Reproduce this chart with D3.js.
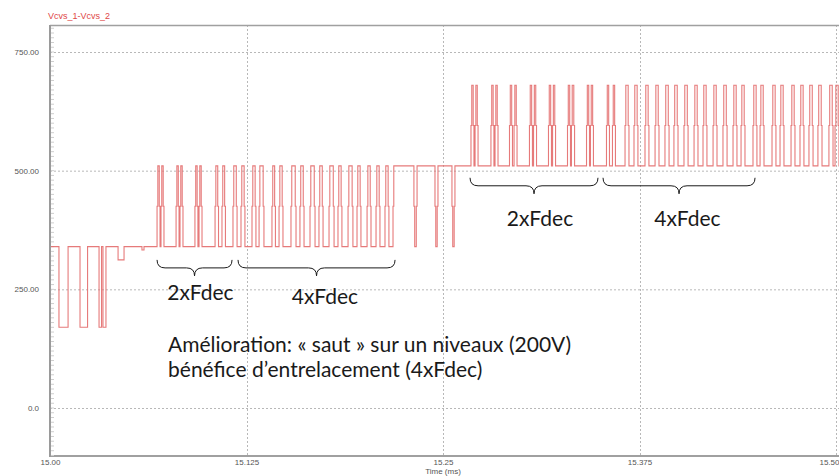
<!DOCTYPE html>
<html>
<head>
<meta charset="utf-8">
<script src="https://cdn.jsdelivr.net/npm/d3@7"></script>
<style>
  body { margin: 0; background: #fff; }
  svg { display: block; }
</style>
</head>
<body>
<div id="chart"></div>
<script>
'use strict';

// Vcvs_1 - Vcvs_2, temps en ms, tension en V

const seriesName = 'Vcvs_1-Vcvs_2';
const xTitle = 'Time (ms)';
const xTicks = [15.0, 15.125, 15.25, 15.375, 15.5];
const xTickLabels = ['15.00', '15.125', '15.25', '15.375', '15.50'];
const yTicks = [0, 250, 500, 750];
const yTickLabels = ['0.0', '250.00', '500.00', '750.00'];

// niveau de repos du signal : [temps, niveau]
const baseLevels = [[15.0, 340], [15.2182, 510]];

// creux 340 -> 170 : [debut, fin]
const dips340 = [
  [15.0057, 15.0115], [15.0191, 15.0239], [15.0312, 15.0328], [15.0337, 15.0356]
];
// petits creux : [debut, fin, niveau]
const notches340 = [[15.0433, 15.0471, 312], [15.0585, 15.0598, 333]];

// impulsions 340 -> 510
const pulses340 = [
  [15.0681, 15.0700], [15.0706, 15.0725], [15.0802, 15.0821], [15.0827, 15.0846],
  [15.0922, 15.0941], [15.0948, 15.0967],
  [15.1050, 15.1072], [15.1094, 15.1116], [15.1164, 15.1190], [15.1215, 15.1240],
  [15.1285, 15.1310], [15.1330, 15.1361], [15.1412, 15.1434], [15.1457, 15.1482],
  [15.1533, 15.1565], [15.1590, 15.1616], [15.1654, 15.1686], [15.1711, 15.1737],
  [15.1775, 15.1807], [15.1832, 15.1857], [15.1896, 15.1927], [15.1953, 15.1978],
  [15.2017, 15.2042], [15.2074, 15.2099], [15.2131, 15.2156]
];

// creux 510 -> 340
const dips510 = [[15.2315, 15.2335], [15.2449, 15.2468], [15.2557, 15.2576]];

// impulsions 510 -> 680
const pulses510 = [
  [15.2678, 15.2697], [15.2704, 15.2723], [15.2805, 15.2824], [15.2831, 15.2850],
  [15.2923, 15.2942], [15.2952, 15.2971], [15.3050, 15.3069], [15.3076, 15.3095],
  [15.3171, 15.3190], [15.3197, 15.3216], [15.3292, 15.3311], [15.3317, 15.3337],
  [15.3413, 15.3432], [15.3438, 15.3457], [15.3540, 15.3559], [15.3578, 15.3597],
  [15.3658, 15.3683], [15.3715, 15.3740], [15.3785, 15.3810], [15.3849, 15.3874],
  [15.3912, 15.3938], [15.3969, 15.3995], [15.4033, 15.4059], [15.4097, 15.4122],
  [15.4154, 15.4179], [15.4218, 15.4243], [15.4281, 15.4307], [15.4345, 15.4370],
  [15.4396, 15.4421], [15.4472, 15.4497], [15.4517, 15.4542], [15.4593, 15.4618],
  [15.4644, 15.4669], [15.4714, 15.4739], [15.4771, 15.4796], [15.4828, 15.4854],
  [15.4885, 15.4911], [15.4955, 15.4981], [15.4994, 15.5019]
];

// accolades et annotations
const braceRanges = [[15.0681, 15.1158], [15.1196, 15.2195], [15.2672, 15.3486], [15.3518, 15.4485]];
const braceLevels = [312, 312, 485, 485];
const braceLabels = ['2xFdec', '4xFdec', '2xFdec', '4xFdec'];
const labelTimes = [15.0957, 15.1749, 15.3117, 15.4055];
const labelLevels = [227, 219, 383, 383];
const noteLines = ['Amélioration: « saut » sur un niveaux (200V)', 'bénéfice d’entrelacement (4xFdec)'];
const noteTime = 15.0751;
const noteLevels = [118, 65];

const width = 839;
const height = 476;
const plot = { left: 50, top: 25, bottom: 456, right: 860 };

const x = d3.scaleLinear().domain([15.0, 15.5]).range([50, 836]);
const y = d3.scaleLinear().domain([0, 750]).range([408, 52]);

const svg = d3.select('#chart')
  .append('svg')
  .attr('width', width)
  .attr('height', height);

svg.append('defs').append('clipPath')
  .attr('id', 'clip')
  .append('rect')
  .attr('x', plot.left + 1)
  .attr('y', plot.top)
  .attr('width', plot.right - plot.left)
  .attr('height', plot.bottom - plot.top);

// grille pointillée
svg.append('g')
  .selectAll('line')
  .data(yTicks)
  .enter()
  .append('line')
  .attr('x1', plot.left)
  .attr('x2', plot.right)
  .attr('y1', d => y(d) + 0.5)
  .attr('y2', d => y(d) + 0.5)
  .attr('stroke', '#b8b8b8')
  .attr('stroke-dasharray', '2,2');

svg.append('g')
  .selectAll('line')
  .data(xTicks.slice(1))
  .enter()
  .append('line')
  .attr('x1', d => Math.round(x(d)) + 0.5)
  .attr('x2', d => Math.round(x(d)) + 0.5)
  .attr('y1', plot.top)
  .attr('y2', plot.bottom)
  .attr('stroke', '#b8b8b8')
  .attr('stroke-dasharray', '2,2');

// cadre
svg.append('line')
  .attr('x1', plot.left).attr('x2', plot.right)
  .attr('y1', plot.top + 0.5).attr('y2', plot.top + 0.5)
  .attr('stroke', '#a0a0a0').attr('stroke-width', 1.5);
svg.append('line')
  .attr('x1', plot.left).attr('x2', plot.right)
  .attr('y1', plot.bottom).attr('y2', plot.bottom)
  .attr('stroke', '#a0a0a0').attr('stroke-width', 2);

// petites graduations le long de l'axe gauche
svg.append('g')
  .selectAll('line')
  .data(d3.range(-100, 810, 10))
  .enter()
  .append('line')
  .attr('x1', plot.left + 1)
  .attr('x2', plot.left + 4)
  .attr('y1', d => y(d))
  .attr('y2', d => y(d))
  .attr('stroke', '#cfcfcf');

svg.append('line')
  .attr('x1', plot.left).attr('x2', plot.left)
  .attr('y1', plot.top).attr('y2', plot.bottom + 1)
  .attr('stroke', '#9a9a9a').attr('stroke-width', 2);

// axes
const yAxis = d3.axisLeft(y)
  .tickValues(yTicks)
  .tickFormat((d, i) => yTickLabels[i])
  .tickSize(0)
  .tickPadding(11);

svg.append('g')
  .attr('transform', `translate(${plot.left},0)`)
  .call(yAxis)
  .call(g => g.select('.domain').remove())
  .selectAll('text')
  .attr('font-family', 'Liberation Sans, Arial, sans-serif')
  .attr('font-size', 8)
  .attr('fill', '#555');

const xAxis = d3.axisBottom(x)
  .tickValues(xTicks)
  .tickFormat((d, i) => xTickLabels[i])
  .tickSize(0)
  .tickPadding(3);

svg.append('g')
  .attr('transform', `translate(0,${plot.bottom})`)
  .call(xAxis)
  .call(g => g.select('.domain').remove())
  .selectAll('text')
  .attr('font-family', 'Liberation Sans, Arial, sans-serif')
  .attr('font-size', 8)
  .attr('fill', '#555')
  // le dernier libellé touche le bord droit
  .attr('text-anchor', (d, i) => i === xTicks.length - 1 ? 'end' : 'middle')
  .attr('dx', (d, i) => i === xTicks.length - 1 ? 3 : 0);

svg.append('text')
  .attr('x', x(15.25))
  .attr('y', 474)
  .attr('text-anchor', 'middle')
  .attr('font-family', 'Liberation Sans, Arial, sans-serif')
  .attr('font-size', 8)
  .attr('fill', '#555')
  .text(xTitle);

svg.append('text')
  .attr('x', 48)
  .attr('y', 19)
  .attr('font-family', 'Liberation Sans, Arial, sans-serif')
  .attr('font-size', 9)
  .attr('fill', '#e04848')
  .text(seriesName);

// construction du signal en escalier
function baseAt(t) {
  let lvl = baseLevels[0][1];
  baseLevels.forEach(([t0, l]) => { if (t >= t0) lvl = l; });
  return lvl;
}

function buildWave() {
  const events = [];
  dips340.forEach(([a, b]) => events.push({ a, b, lvl: 170, step: false }));
  notches340.forEach(([a, b, l]) => events.push({ a, b, lvl: l, step: false }));
  pulses340.forEach(([a, b]) => events.push({ a, b, lvl: 510, step: true }));
  dips510.forEach(([a, b]) => events.push({ a, b, lvl: 340, step: true }));
  pulses510.forEach(([a, b]) => events.push({ a, b, lvl: 680, step: true }));
  baseLevels.slice(1).forEach(([t0, l]) => events.push({ a: t0, lvl: l, change: true }));
  events.sort((p, q) => p.a - q.a);

  const d = 0.0005;
  const pts = [[15.0, baseLevels[0][1]]];
  let base = baseLevels[0][1];
  events.forEach(e => {
    if (e.change) {
      const mid = (base + e.lvl) / 2;
      pts.push([e.a, base], [e.a, mid], [e.a + d, mid], [e.a + d, e.lvl]);
      base = e.lvl;
      return;
    }
    if (e.step) {
      const mid = (base + e.lvl) / 2;
      pts.push([e.a, base], [e.a, mid], [e.a + d, mid], [e.a + d, e.lvl],
               [e.b - d, e.lvl], [e.b - d, mid], [e.b, mid], [e.b, base]);
    } else {
      pts.push([e.a, base], [e.a, e.lvl], [e.b, e.lvl], [e.b, base]);
    }
  });
  pts.push([15.52, base]);
  return pts;
}

const line = d3.line()
  .x(d => x(d[0]))
  .y(d => y(d[1]));

svg.append('path')
  .datum(buildWave())
  .attr('clip-path', 'url(#clip)')
  .attr('fill', 'none')
  .attr('stroke', '#e36c6c')
  .attr('stroke-width', 1.1)
  .attr('stroke-opacity', 0.9)
  .attr('d', line);

// accolades
function bracePath(x1, x2, y0, h) {
  const xm = (x1 + x2) / 2;
  const r = h / 2;
  return `M${x1},${y0} Q${x1},${y0 + r} ${x1 + r},${y0 + r} L${xm - r},${y0 + r} ` +
         `Q${xm},${y0 + r} ${xm},${y0 + h} Q${xm},${y0 + r} ${xm + r},${y0 + r} ` +
         `L${x2 - r},${y0 + r} Q${x2},${y0 + r} ${x2},${y0}`;
}

svg.append('g')
  .selectAll('path')
  .data(braceRanges)
  .enter()
  .append('path')
  .attr('d', (d, i) => bracePath(x(d[0]), x(d[1]), y(braceLevels[i]), 16))
  .attr('fill', 'none')
  .attr('stroke', '#1a1a1a')
  .attr('stroke-width', 1);

svg.append('g')
  .selectAll('text')
  .data(braceLabels)
  .enter()
  .append('text')
  .attr('x', (d, i) => x(labelTimes[i]))
  .attr('y', (d, i) => y(labelLevels[i]))
  .attr('text-anchor', 'middle')
  .attr('font-family', 'Lato, sans-serif')
  .attr('font-size', 21)
  .attr('fill', '#1a1a1a')
  .text(d => d);

svg.append('g')
  .selectAll('text')
  .data(noteLines)
  .enter()
  .append('text')
  .attr('x', x(noteTime))
  .attr('y', (d, i) => y(noteLevels[i]))
  .attr('font-family', 'Lato, sans-serif')
  .attr('font-size', 21)
  .attr('fill', '#1a1a1a')
  .text(d => d);
</script>
</body>
</html>
